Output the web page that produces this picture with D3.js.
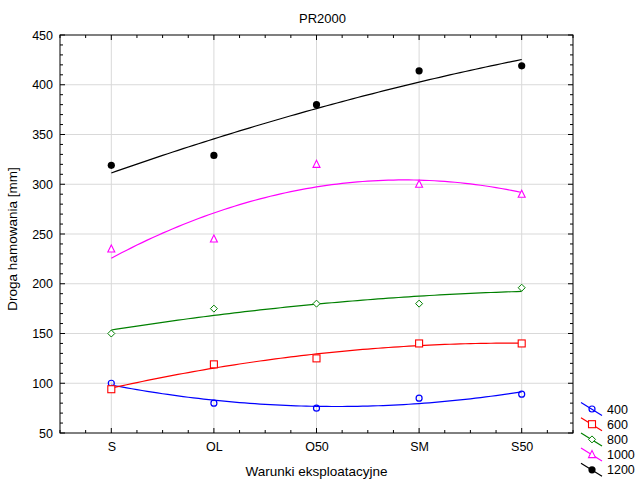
<!DOCTYPE html>
<html>
<head>
<meta charset="utf-8">
<script src="https://cdn.jsdelivr.net/npm/d3@7"></script>
<style>
  body { margin: 0; background: #fff; }
  svg { font-family: "Liberation Sans", Arial, sans-serif; }
  .grid line { stroke: #d9d9d9; stroke-width: 1; }
</style>
</head>
<body>
<div id="chart"></div>
<script>
// categories and measured values
var categories = ["S", "OL", "O50", "SM", "S50"];
var seriesNames = ["400", "600", "800", "1000", "1200"];
var v400  = [100, 80, 75, 85, 89];
var v600  = [94, 119, 125, 140, 140];
var v800  = [150, 175, 180, 180, 196];
var v1000 = [235, 245, 320, 300, 290];
var v1200 = [319, 329, 380, 414, 419];
var yTicks = [50, 100, 150, 200, 250, 300, 350, 400, 450];

var colors = ["#0000ff", "#ff0000", "#008000", "#ff00ff", "#000000"];
var shapes = ["circle", "square", "diamond", "triangle", "dot"];
var allValues = [v400, v600, v800, v1000, v1200];

var width = 638, height = 479;
var margin = {left: 60, right: 65, top: 35, bottom: 46};
var x0 = margin.left, x1 = width - margin.right;
var y0 = margin.top, y1 = height - margin.bottom;

var svg = d3.select("#chart").append("svg")
    .attr("width", width)
    .attr("height", height);

// x: category index, domain padded by half a step
var x = d3.scaleLinear().domain([-0.5, categories.length - 0.5]).range([x0, x1]);
var y = d3.scaleLinear().domain([50, 450]).range([y1, y0]);

// grid
var grid = svg.append("g").attr("class", "grid");
grid.selectAll(".h").data(yTicks.slice(1, -1)).enter().append("line")
    .attr("x1", x0).attr("x2", x1)
    .attr("y1", d => y(d)).attr("y2", d => y(d));
grid.selectAll(".v").data(d3.range(categories.length)).enter().append("line")
    .attr("x1", d => x(d)).attr("x2", d => x(d))
    .attr("y1", y0).attr("y2", y1);

// quadratic least-squares fit (like the original software's polynomial fit)
function quadFit(vals) {
    var n = vals.length, xs = d3.range(n);
    var mx = d3.mean(xs);
    var p1 = xs.map(t => t - mx);
    var s2 = d3.mean(p1.map(t => t * t));
    var p2 = p1.map(t => t * t - s2);
    var a = d3.mean(vals);
    var b = d3.sum(vals.map((v, i) => v * p1[i])) / d3.sum(p1.map(t => t * t));
    var c = d3.sum(vals.map((v, i) => v * p2[i])) / d3.sum(p2.map(t => t * t));
    return t => a + b * (t - mx) + c * ((t - mx) * (t - mx) - s2);
}

var line = d3.line().x(d => x(d[0])).y(d => y(d[1]));
var samples = d3.range(0, 4.0001, 0.05);

allValues.forEach(function(vals, k) {
    var f = quadFit(vals);
    svg.append("path")
        .attr("d", line(samples.map(t => [t, f(t)])))
        .attr("fill", "none")
        .attr("stroke", colors[k])
        .attr("stroke-width", 1.2);
});

function drawMarker(g, shape, color, cx, cy) {
    if (shape === "circle") {
        g.append("circle").attr("cx", cx).attr("cy", cy).attr("r", 3)
            .attr("fill", "none").attr("stroke", color).attr("stroke-width", 1.2);
    } else if (shape === "square") {
        g.append("rect").attr("x", cx - 3.5).attr("y", cy - 3.5)
            .attr("width", 7).attr("height", 7)
            .attr("fill", "#fff").attr("stroke", color).attr("stroke-width", 1.1);
    } else if (shape === "diamond") {
        g.append("path")
            .attr("d", "M" + cx + "," + (cy - 3.5) + "L" + (cx + 3.5) + "," + cy +
                "L" + cx + "," + (cy + 3.5) + "L" + (cx - 3.5) + "," + cy + "Z")
            .attr("fill", "#fff").attr("stroke", color).attr("stroke-width", 1);
    } else if (shape === "triangle") {
        g.append("path")
            .attr("d", "M" + cx + "," + (cy - 4) + "L" + (cx + 3.5) + "," + (cy + 3) +
                "L" + (cx - 3.5) + "," + (cy + 3) + "Z")
            .attr("fill", "#fff").attr("stroke", color).attr("stroke-width", 1.1);
    } else {
        g.append("circle").attr("cx", cx).attr("cy", cy).attr("r", 3.6)
            .attr("fill", color);
    }
}

var pts = svg.append("g");
allValues.forEach(function(vals, k) {
    vals.forEach(function(v, i) {
        drawMarker(pts, shapes[k], colors[k], x(i), y(v));
    });
});

// frame
svg.append("rect")
    .attr("x", x0).attr("y", y0)
    .attr("width", x1 - x0).attr("height", y1 - y0)
    .attr("fill", "none").attr("stroke", "#000").attr("stroke-width", 1);

// inward ticks: minor 3px, major 5px
var ticks = svg.append("g").attr("stroke", "#000").attr("stroke-width", 1);
d3.range(50, 451, 10).forEach(function(v) {
    var len = v % 50 === 0 ? 5 : 3;
    ticks.append("line").attr("x1", x0).attr("x2", x0 + len).attr("y1", y(v)).attr("y2", y(v));
    ticks.append("line").attr("x1", x1).attr("x2", x1 - len).attr("y1", y(v)).attr("y2", y(v));
});
d3.range(-0.5, 4.51, 0.25).forEach(function(t) {
    var len = Math.abs(t - Math.round(t)) < 1e-6 ? 5 : 3;
    ticks.append("line").attr("x1", x(t)).attr("x2", x(t)).attr("y1", y1).attr("y2", y1 - len);
    ticks.append("line").attr("x1", x(t)).attr("x2", x(t)).attr("y1", y0).attr("y2", y0 + len);
});

// axes labels
var yAxis = d3.axisLeft(y).tickValues(yTicks).tickSize(0).tickPadding(7);
svg.append("g").attr("transform", "translate(" + x0 + ",0)").call(yAxis)
    .call(g => g.select(".domain").remove())
    .selectAll("text").attr("font-size", 12.5).attr("fill", "#000")
    .style("font-family", "Liberation Sans, Arial, sans-serif");

var xAxis = d3.axisBottom(x).tickValues(d3.range(categories.length))
    .tickFormat(i => categories[i]).tickSize(0).tickPadding(9);
svg.append("g").attr("transform", "translate(0," + y1 + ")").call(xAxis)
    .call(g => g.select(".domain").remove())
    .selectAll("text").attr("font-size", 12.5).attr("fill", "#000")
    .style("font-family", "Liberation Sans, Arial, sans-serif");

svg.append("text")
    .attr("x", (x0 + x1) / 2 + 6).attr("y", 23)
    .attr("text-anchor", "middle").attr("font-size", 13)
    .text("PR2000");

svg.append("text")
    .attr("x", (x0 + x1) / 2).attr("y", 476)
    .attr("text-anchor", "middle").attr("font-size", 13.5)
    .text("Warunki eksploatacyjne");

svg.append("text")
    .attr("transform", "translate(17," + ((y0 + y1) / 2 + 5) + ") rotate(-90)")
    .attr("text-anchor", "middle").attr("font-size", 13.5)
    .text("Droga hamowania [mm]");

// legend
var legend = svg.append("g");
seriesNames.forEach(function(name, k) {
    var cy = 409 + k * 15.2, cx = 592;
    legend.append("line")
        .attr("x1", cx - 11).attr("y1", cy - 6.5)
        .attr("x2", cx + 10).attr("y2", cy + 6.5)
        .attr("stroke", colors[k]).attr("stroke-width", 1.2);
    drawMarker(legend, shapes[k], colors[k], cx, cy);
    legend.append("text")
        .attr("x", 607).attr("y", cy + 4.5)
        .attr("font-size", 12.5)
        .text(name);
});
</script>
</body>
</html>
